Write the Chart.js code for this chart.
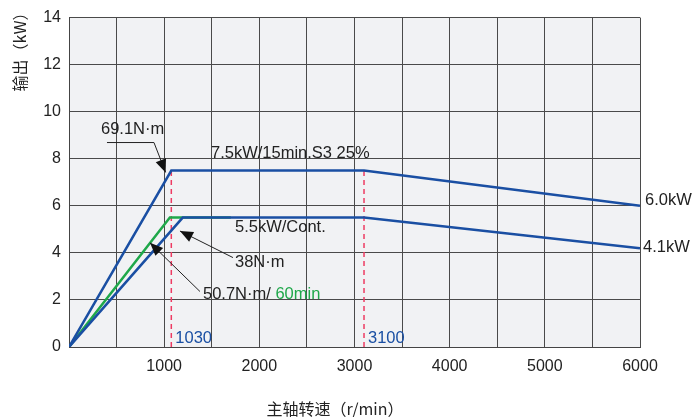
<!DOCTYPE html>
<html>
<head>
<meta charset="utf-8">
<script src="https://cdn.jsdelivr.net/npm/chart.js@4.4.1/dist/chart.umd.min.js"></script>
<style>
  html, body { margin: 0; padding: 0; background: #fff; }
  #wrap { width: 694px; height: 417px; }
</style>
</head>
<body>
<div id="wrap"><canvas id="chart"></canvas></div>
<script>
// spindle speed (r/min) vs output (kW)
const s3Speed = [0, 1075, 3100, 6000];
const s3Power = [0, 7.5, 7.5, 6.0];

const contSpeed = [0, 1195, 3100, 6000];
const contPower = [0, 5.5, 5.5, 4.2];

const s6Speed = [0, 1060, 1700];
const s6Power = [0, 5.5, 5.5];

const baseSpeeds = [1075, 3100];
const baseLabels = ['1030', '3100'];

const xTicks = [1000, 2000, 3000, 4000, 5000, 6000];
const yTicks = [0, 2, 4, 6, 8, 10, 12, 14];

const BLUE = '#1a4fa3';
const GREEN = '#1fa84a';
const RED = '#ee3b62';
const TEXT = '#222';
const FONT = '"Liberation Sans", Arial, sans-serif';

function toPoints(xs, ys) {
    return xs.map((x, i) => ({ x: x, y: ys[i] }));
}

const datasets = [
    { data: toPoints(s3Speed, s3Power), borderColor: BLUE, borderWidth: 2.5 },
    { data: toPoints(contSpeed, contPower), borderColor: BLUE, borderWidth: 2.5 },
    { data: toPoints(s6Speed, s6Power), borderColor: GREEN, borderWidth: 2.5 }
];
baseSpeeds.forEach(s => {
    datasets.push({
        data: [{ x: s, y: 0 }, { x: s, y: 7.5 }],
        borderColor: RED,
        borderWidth: 1.5,
        borderDash: [5, 4]
    });
});

// annotation texts and arrows, positions in data units
const notes = [
    { text: '69.1N·m', x: 336, y: 9.24 },
    { text: '7.5kW/15min.S3 25%', x: 1492, y: 8.22 },
    { text: '5.5kW/Cont.', x: 1744, y: 5.06 },
    { text: '38N·m', x: 1744, y: 3.59 },
    { text: '6.0kW', x: 6052, y: 6.24 },
    { text: '4.1kW', x: 6031, y: 4.22 }
];

const arrows = [
    { pts: [[399, 8.69], [893, 8.69], [1015, 7.42]] },
    { pts: [[1723, 3.80], [1166, 4.93]] },
    { pts: [[1376, 2.36], [851, 4.43]] }
];

const annotatePlugin = {
    id: 'annotate',
    beforeDraw(chart) {
        const { ctx, chartArea: a } = chart;
        ctx.save();
        ctx.fillStyle = '#f1f2f4';
        ctx.fillRect(a.left, a.top, a.right - a.left, a.bottom - a.top);
        ctx.restore();
    },
    afterDraw(chart) {
        const { ctx } = chart;
        const sx = chart.scales.x, sy = chart.scales.y;
        const px = v => sx.getPixelForValue(v);
        const py = v => sy.getPixelForValue(v);
        ctx.save();
        ctx.font = '16.5px ' + FONT;
        ctx.textBaseline = 'middle';
        ctx.textAlign = 'left';
        ctx.fillStyle = TEXT;
        notes.forEach(n => ctx.fillText(n.text, px(n.x), py(n.y)));

        // mixed colour label
        const t1 = '50.7N·m/ ';
        const lx = px(1408), ly = py(2.24);
        ctx.fillText(t1, lx, ly);
        ctx.fillStyle = GREEN;
        ctx.fillText('60min', lx + ctx.measureText(t1).width, ly);

        // base speed labels
        ctx.fillStyle = BLUE;
        baseSpeeds.forEach((s, i) => ctx.fillText(baseLabels[i], px(s) + 4, py(0.38)));

        // arrows
        ctx.strokeStyle = '#222';
        ctx.fillStyle = '#111';
        ctx.lineWidth = 1;
        arrows.forEach(ar => {
            const p = ar.pts.map(q => [px(q[0]), py(q[1])]);
            ctx.beginPath();
            ctx.moveTo(p[0][0], p[0][1]);
            for (let i = 1; i < p.length; i++) ctx.lineTo(p[i][0], p[i][1]);
            ctx.stroke();
            const [tx, ty] = p[p.length - 1];
            const [fx, fy] = p[p.length - 2];
            const ang = Math.atan2(ty - fy, tx - fx);
            const len = 13, w = 5.5;
            ctx.beginPath();
            ctx.moveTo(tx, ty);
            ctx.lineTo(tx - len * Math.cos(ang) + w * Math.sin(ang), ty - len * Math.sin(ang) - w * Math.cos(ang));
            ctx.lineTo(tx - len * Math.cos(ang) - w * Math.sin(ang), ty - len * Math.sin(ang) + w * Math.cos(ang));
            ctx.closePath();
            ctx.fill();
        });

        // axis titles
        ctx.fillStyle = TEXT;
        ctx.font = '16px "Noto Sans CJK SC", sans-serif';
        ctx.textAlign = 'center';
        ctx.fillText('主轴转速（r/min）', 335, 409);
        ctx.translate(20, 48);
        ctx.rotate(-Math.PI / 2);
        ctx.fillText('输出（kW）', 0, 0);
        ctx.restore();
    }
};

new Chart(document.getElementById('chart'), {
    type: 'line',
    data: { datasets: datasets },
    plugins: [annotatePlugin],
    options: {
        responsive: true,
        maintainAspectRatio: false,
        animation: false,
        layout: { padding: { top: 15, right: 54, left: 0, bottom: 0 } },
        elements: { point: { radius: 0 }, line: { tension: 0 } },
        plugins: {
            legend: { display: false },
            tooltip: { enabled: false }
        },
        scales: {
            x: {
                type: 'linear',
                min: 0,
                max: 6000,
                afterFit: s => { s.height = 70; },
                afterBuildTicks: s => {
                    const t = [];
                    for (let v = 0; v <= 6000; v += 500) t.push({ value: v });
                    s.ticks = t;
                },
                ticks: {
                    color: TEXT,
                    font: { size: 16, family: FONT },
                    padding: 10,
                    maxRotation: 0,
                    autoSkip: false,
                    callback: v => xTicks.includes(v) ? String(v) : ''
                },
                grid: { color: '#4a4a4a', lineWidth: 1, drawTicks: false },
                border: { color: '#444', width: 1 }
            },
            y: {
                min: 0,
                max: 14,
                afterFit: s => { s.width = 69; },
                afterBuildTicks: s => { s.ticks = yTicks.map(v => ({ value: v })); },
                ticks: {
                    color: TEXT,
                    font: { size: 16, family: FONT },
                    padding: 8
                },
                grid: { color: '#4a4a4a', lineWidth: 1, drawTicks: false },
                border: { color: '#444', width: 1 }
            }
        }
    }
});
</script>
</body>
</html>
